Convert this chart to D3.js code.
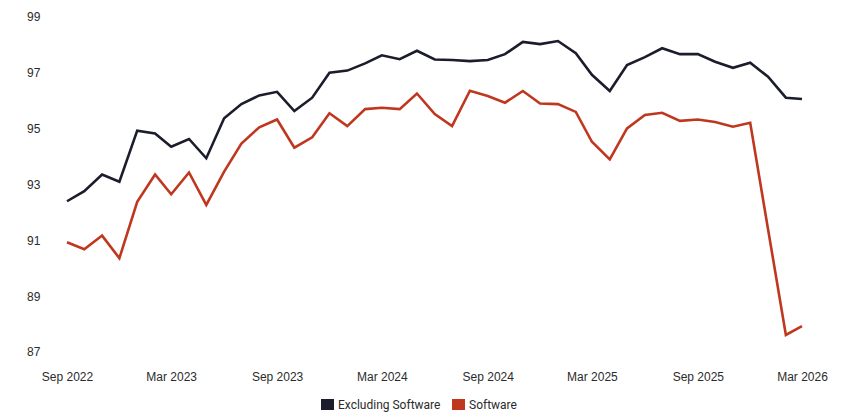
<!DOCTYPE html>
<html>
<head>
<meta charset="utf-8">
<script src="https://cdn.jsdelivr.net/npm/d3@7"></script>
<style>
  html, body { margin: 0; padding: 0; background: #fff; }
  svg { display: block; font-family: Roboto, "Noto Sans", sans-serif; }
  .axis text { font-size: 12px; fill: #2b2b2b; }
  .legend text { font-size: 12px; fill: #2b2b2b; }
</style>
</head>
<body>
<svg id="chart"></svg>
<script>
const width = 858, height = 414;

// monthly points, Sep 2022 .. Mar 2026
const firstMonth = "2022-09-01";
const lastMonth = "2026-03-01";

const excludingSoftware = [
  92.40, 92.76, 93.36, 93.10, 94.93, 94.83, 94.35, 94.63, 93.94, 95.37,
  95.88, 96.19, 96.32, 95.63, 96.11, 97.00, 97.08, 97.34, 97.63, 97.49,
  97.79, 97.48, 97.46, 97.42, 97.46, 97.67, 98.11, 98.03, 98.14, 97.70,
  96.93, 96.35, 97.28, 97.56, 97.88, 97.67, 97.67, 97.40, 97.18, 97.36,
  96.86, 96.11, 96.06
];

const software = [
  90.93, 90.68, 91.17, 90.36, 92.38, 93.36, 92.65, 93.43, 92.27, 93.46,
  94.47, 95.05, 95.33, 94.32, 94.69, 95.55, 95.09, 95.70, 95.75, 95.70,
  96.26, 95.52, 95.09, 96.36, 96.17, 95.93, 96.35, 95.90, 95.88, 95.60,
  94.53, 93.90, 95.01, 95.49, 95.57, 95.28, 95.33, 95.24, 95.07, 95.21,
  91.40, 87.61, 87.93
];

const yTicks = [87, 89, 91, 93, 95, 97, 99];
const xTickLabels = ["2022-09-01", "2023-03-01", "2023-09-01", "2024-03-01",
  "2024-09-01", "2025-03-01", "2025-09-01", "2026-03-01"];

const seriesNames = ["Excluding Software", "Software"];
const seriesColors = ["#1b1d2c", "#c0371f"];

const months = d3.utcMonth.range(new Date(firstMonth), d3.utcMonth.offset(new Date(lastMonth), 1));
const series = [
  { name: seriesNames[0], color: seriesColors[0], values: excludingSoftware },
  { name: seriesNames[1], color: seriesColors[1], values: software }
];

const svg = d3.select("#chart").attr("width", width).attr("height", height);

const x = d3.scaleUtc()
  .domain([new Date(firstMonth), new Date(lastMonth)])
  .range([67, 802]);

const y = d3.scaleLinear()
  .domain([87, 99])
  .range([352, 17]);

// y axis labels, left aligned
const yAxis = svg.append("g")
  .attr("class", "axis")
  .attr("transform", "translate(27,0)")
  .call(d3.axisLeft(y).tickValues(yTicks).tickSize(0).tickPadding(0).tickFormat(d3.format("d")));
yAxis.select(".domain").remove();
yAxis.selectAll("text").attr("text-anchor", "start").attr("x", 0);

// x axis labels
const xAxis = svg.append("g")
  .attr("class", "axis")
  .attr("transform", "translate(0,366)")
  .call(d3.axisBottom(x)
    .tickValues(xTickLabels.map(d => new Date(d)))
    .tickSize(0)
    .tickPadding(6)
    .tickFormat(d3.utcFormat("%b %Y")));
xAxis.select(".domain").remove();

const line = d3.line()
  .x((d, i) => x(months[i]))
  .y(d => y(d));

svg.append("g")
  .selectAll("path")
  .data(series)
  .join("path")
  .attr("fill", "none")
  .attr("stroke", d => d.color)
  .attr("stroke-width", 2.6)
  .attr("stroke-linejoin", "miter")
  .attr("d", d => line(d.values));

// legend
const legend = svg.append("g").attr("class", "legend").attr("transform", "translate(321,399)");
const legendX = [0, 131];
const items = legend.selectAll("g")
  .data(series)
  .join("g")
  .attr("transform", (d, i) => `translate(${legendX[i]},0)`);
items.append("rect")
  .attr("width", 13)
  .attr("height", 11)
  .attr("fill", d => d.color);
items.append("text")
  .attr("x", 17)
  .attr("y", 10)
  .text(d => d.name);
</script>
</body>
</html>
